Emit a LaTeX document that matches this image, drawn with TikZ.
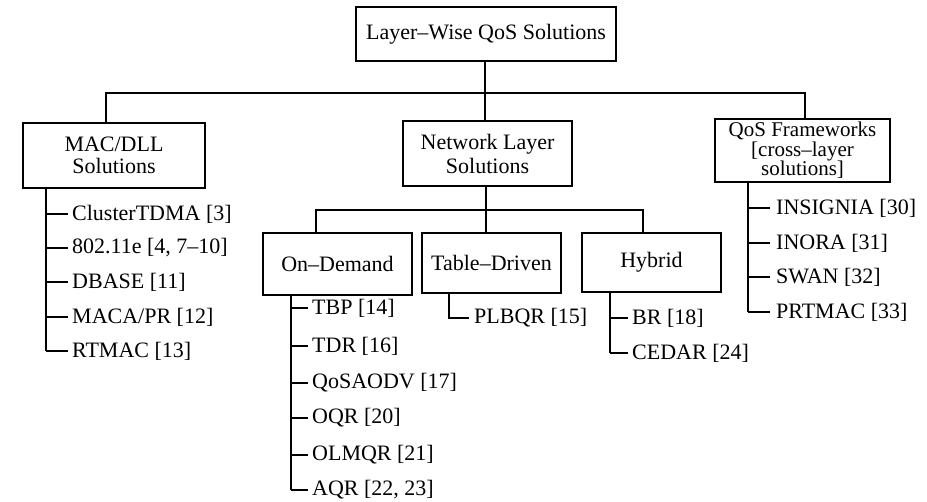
\documentclass[tikz,border=0pt]{standalone}
\usepackage{fontspec}
\setmainfont{Liberation Serif}
\begin{document}
\begin{tikzpicture}[x=1pt,y=-1pt,
  box/.style={draw,line width=1.6pt,inner sep=0pt,align=center,font=\fontsize{22}{23}\selectfont},
  item/.style={anchor=west,inner sep=0pt,font=\fontsize{22}{23}\selectfont},
  conn/.style={line width=1.6pt}]
\useasboundingbox[fill=white] (0,0) rectangle (927,502);
% boxes
\node[box,minimum width=260pt,minimum height=54pt] (top) at (486,34) {Layer–Wise QoS Solutions};
\node[box,minimum width=182pt,minimum height=65pt,font=\fontsize{22}{22}\selectfont] (mac) at (114,155.5) {MAC/DLL\\Solutions};
\node[box,minimum width=169pt,minimum height=65pt,font=\fontsize{22}{24}\selectfont] (net) at (487.5,153.5) {Network Layer\\Solutions};
\node[box,minimum width=175pt,minimum height=63pt,font=\fontsize{21}{19.5}\selectfont] (qos) at (802.5,150.5) {QoS Frameworks\\{[}cross–layer\\solutions{]}};
\node[box,minimum width=149pt,minimum height=62pt] (ond) at (337.5,264) {On–Demand};
\node[box,minimum width=139pt,minimum height=60pt] (tab) at (491.5,263) {Table–Driven};
\node[box,minimum width=139pt,minimum height=59pt] (hyb) at (651.5,262.5) {Hybrid};
% top-level bus
\coordinate (b0) at (485,93);
\coordinate (bl) at (106,93);
\coordinate (br) at (805,93);
\draw[conn] (top.south -| b0) -- (b0);
\draw[conn] (mac.north -| bl) -- (bl) -- (br) -- (qos.north -| br);
\draw[conn] (b0) -- (net.north -| b0);
% network sub-bus
\coordinate (s0) at (486,210);
\coordinate (sl) at (316,210);
\coordinate (sr) at (643,210);
\draw[conn] (net.south -| s0) -- (tab.north -| s0);
\draw[conn] (ond.north -| sl) -- (sl) -- (sr) -- (hyb.north -| sr);
% MAC items
\foreach \n/\y/\t in {m1/214/{ClusterTDMA [3]}, m2/248/{802.11e [4, 7–10]}, m3/282/{DBASE [11]}, m4/317/{MACA/PR [12]}, m5/351/{RTMAC [13]}}{
  \node[item] (\n) at (72,\y) {\t};
  \coordinate (\n t) at (46,\y);
  \draw[conn] (\n t) -- ([xshift=-4pt]\n.west);
}
\draw[conn] (mac.south -| m1t) -- (m5t);
% On-Demand items
\foreach \n/\y/\t in {o1/308/{TBP [14]}, o2/346/{TDR [16]}, o3/383/{QoSAODV [17]}, o4/418/{OQR [20]}, o5/455/{OLMQR [21]}, o6/490/{AQR [22, 23]}}{
  \node[item] (\n) at (312,\y) {\t};
  \coordinate (\n t) at (291,\y);
  \draw[conn] (\n t) -- ([xshift=-4pt]\n.west);
}
\draw[conn] (ond.south -| o1t) -- (o6t);
% Table-Driven item
\node[item] (t1) at (474,318) {PLBQR [15]};
\coordinate (t1t) at (449,318);
\draw[conn] (tab.south -| t1t) -- (t1t) -- ([xshift=-5pt]t1.west);
% Hybrid items
\foreach \n/\y/\t in {h1/318/{BR [18]}, h2/353/{CEDAR [24]}}{
  \node[item] (\n) at (632,\y) {\t};
  \coordinate (\n t) at (610,\y);
  \draw[conn] (\n t) -- ([xshift=-4pt]\n.west);
}
\draw[conn] (hyb.south -| h1t) -- (h2t);
% QoS framework items
\foreach \n/\y/\t in {q1/208/{INSIGNIA [30]}, q2/243/{INORA [31]}, q3/277/{SWAN [32]}, q4/312/{PRTMAC [33]}}{
  \node[item] (\n) at (776,\y) {\t};
  \coordinate (\n t) at (748,\y);
  \draw[conn] (\n t) -- ([xshift=-6pt]\n.west);
}
\draw[conn] (qos.south -| q1t) -- (q4t);
\end{tikzpicture}
\end{document}
